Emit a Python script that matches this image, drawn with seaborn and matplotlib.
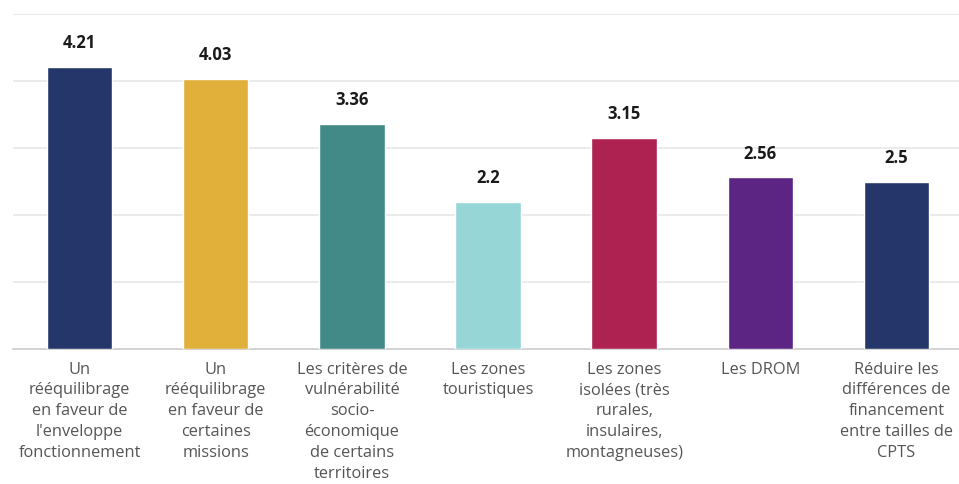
import matplotlib
matplotlib.use("Agg")
import matplotlib.pyplot as plt
import seaborn as sns
import pandas as pd

# données
categories = [
    "Un\nrééquilibrage\nen faveur de\nl'enveloppe\nfonctionnement",
    "Un\nrééquilibrage\nen faveur de\ncertaines\nmissions",
    "Les critères de\nvulnérabilité\nsocio-\néconomique\nde certains\nterritoires",
    "Les zones\ntouristiques",
    "Les zones\nisolées (très\nrurales,\ninsulaires,\nmontagneuses)",
    "Les DROM",
    "Réduire les\ndifférences de\nfinancement\nentre tailles de\nCPTS",
]
scores = [4.21, 4.03, 3.36, 2.2, 3.15, 2.56, 2.5]
value_labels = ["4.21", "4.03", "3.36", "2.2", "3.15", "2.56", "2.5"]
colors = ["#25366a", "#e0b03a", "#428a87", "#97d6d6", "#ae2251", "#5c2483", "#25366a"]

sns.set_theme(style="white")
plt.rcParams["font.family"] = ["Open Sans", "DejaVu Sans"]

df = pd.DataFrame({"cat": categories, "score": scores})

fig = plt.figure(figsize=(9.59, 4.84), dpi=100)
ax = fig.add_axes([13 / 959, 135 / 484, 946 / 959, 335 / 484])

sns.barplot(data=df, x="cat", y="score", hue="cat", palette=colors,
            legend=False, width=0.48, saturation=1, ax=ax, zorder=3)

ax.set_ylim(0, 5)
ax.set_xlim(-0.49, 6.46)
ax.set_yticks([1, 2, 3, 4, 5])
ax.set_yticklabels([])
ax.yaxis.grid(True, color="#e8e8e8", linewidth=1.2, zorder=0)
ax.tick_params(axis="y", length=0)
ax.tick_params(axis="x", length=0, pad=9, labelsize=11.8, labelcolor="#555555")
for lbl in ax.get_xticklabels():
    lbl.set_linespacing(1.4)
    lbl.set_verticalalignment("top")
ax.set_xlabel("")
ax.set_ylabel("")

for s in ["top", "right", "left"]:
    ax.spines[s].set_visible(False)
ax.spines["bottom"].set_color("#cccccc")
ax.spines["bottom"].set_linewidth(1.2)

for i, (v, t) in enumerate(zip(scores, value_labels)):
    ax.text(i, v + 0.22, t, ha="center", va="bottom", fontsize=12,
            fontweight="bold", color="#1a1a1a")

fig.savefig("out.png", dpi=100)
